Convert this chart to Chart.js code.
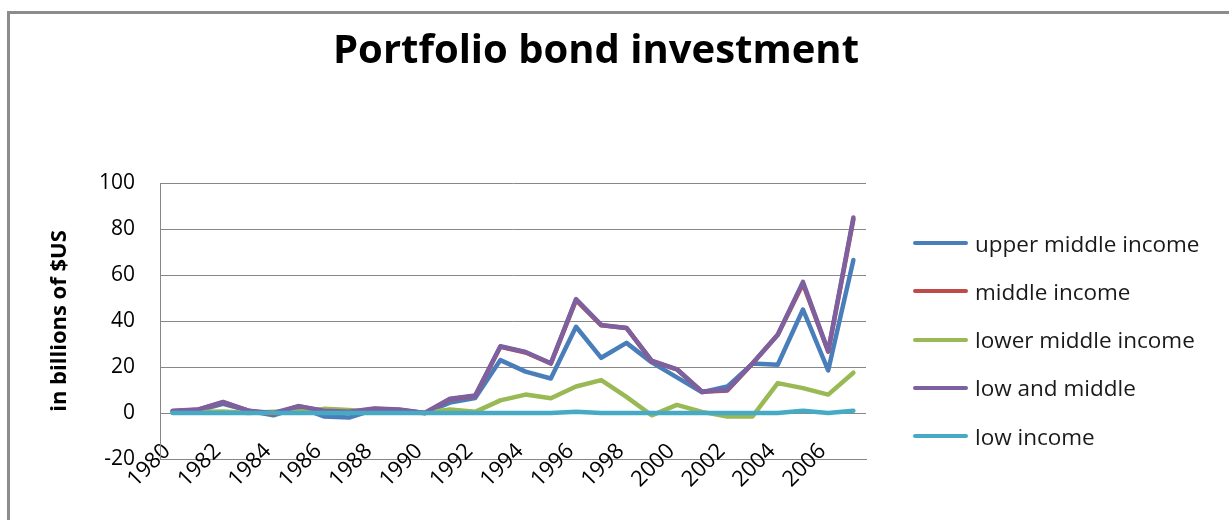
<!DOCTYPE html>
<html>
<head>
<meta charset="utf-8">
<script src="https://cdn.jsdelivr.net/npm/chart.js@4.4.1/dist/chart.umd.min.js"></script>
<style>
  html, body { margin: 0; padding: 0; background: #fff; }
  #wrap { position: relative; width: 1229px; height: 520px; overflow: hidden; background: #fff; }
  #frame { position: absolute; left: 7px; top: 11px; width: 1300px; height: 600px;
           border-left: 3px solid #8c8c8c; border-top: 3px solid #8c8c8c; pointer-events: none; }
  #legend { position: absolute; left: 913px; top: 226px; font-family: "Open Sans", sans-serif; font-size: 22.5px; color: #1a1a1a; }
  .item { display: flex; align-items: center; height: 34px; margin-bottom: 14.3px; white-space: nowrap; }
  .swatch { width: 55px; height: 4px; border-radius: 2px; margin-right: 7px; flex: none; }
</style>
</head>
<body>
<div id="wrap">
  <canvas id="c" width="1229" height="520"></canvas>
  <div id="frame"></div>
  <div id="legend"></div>
</div>
<script>
const years = [1980,1981,1982,1983,1984,1985,1986,1987,1988,1989,1990,1991,1992,1993,1994,1995,1996,1997,1998,1999,2000,2001,2002,2003,2004,2005,2006,2007];
const xTickLabels = ['1980','','1982','','1984','','1986','','1988','','1990','','1992','','1994','','1996','','1998','','2000','','2002','','2004','','2006',''];
const yTicks = [-20, 0, 20, 40, 60, 80, 100];

const upperMiddleIncome = [0.5, 1, 4, 1, -1, 2.5, -1.5, -2, 1.5, 1, 0, 4.5, 6.5, 23, 18, 15, 37.5, 24, 30.5, 22, 15.5, 9, 11.5, 21.5, 21, 45, 18.5, 66.5];
const middleIncome      = [0.8, 1.4, 4.6, 1, -0.5, 3, 0.8, 0.3, 1.8, 1.3, 0, 6, 7.4, 28.8, 26.3, 21.5, 49.1, 38.1, 37, 22.6, 19, 9.2, 9.8, 21.5, 34, 56.2, 26.7, 84.2];
const lowerMiddleIncome = [0.3, 0.4, 0.6, 0, 0.5, 0.5, 1.8, 1.3, 0.3, 0.3, 0, 1.5, 0.5, 5.5, 8, 6.4, 11.5, 14.3, 7, -1, 3.5, 0.5, -1.5, -1.5, 13, 10.8, 8, 17.5];
const lowAndMiddle      = [1, 1.5, 4.8, 1, 0, 3, 1, 0.5, 2, 1.5, 0, 6.2, 7.6, 29, 26.5, 21.6, 49.5, 38.3, 37, 22.8, 19, 9.3, 10, 21.6, 34, 57, 27, 85];
const lowIncome         = [0, 0, 0, 0, 0, 0, 0, 0, 0, 0, 0, 0, 0, 0, 0, 0, 0.5, 0, 0, 0, 0, 0, 0, 0, 0, 1, 0, 1];

const seriesNames = ['upper middle income', 'middle income', 'lower middle income', 'low and middle', 'low income'];
const seriesColors = ['#4A7EBB', '#BE4B48', '#98B954', '#7D60A0', '#46AAC5'];
const seriesValues = [upperMiddleIncome, middleIncome, lowerMiddleIncome, lowAndMiddle, lowIncome];

const FONT = '"Open Sans", Lato, sans-serif';

const datasets = seriesNames.map((name, i) => ({
  label: name,
  data: seriesValues[i],
  borderColor: seriesColors[i],
  backgroundColor: seriesColors[i],
  borderWidth: 4.5,
  borderJoinStyle: 'round',
  borderCapStyle: 'round',
  pointRadius: 0,
  pointHoverRadius: 0,
  tension: 0,
  fill: false,
  yAxisID: 'y',
  order: seriesNames.length - i
}));

const chart = new Chart(document.getElementById('c'), {
  type: 'line',
  data: { labels: years, datasets },
  options: {
    responsive: false,
    animation: false,
    layout: { padding: { left: 20, right: 57, top: 0, bottom: 0 } },
    plugins: {
      legend: { display: false },
      tooltip: { enabled: false },
      title: {
        display: true,
        text: 'Portfolio bond investment',
        color: '#000',
        font: { family: FONT, size: 40, weight: 'bold' },
        padding: { top: 28, bottom: 107 }
      }
    },
    scales: {
      x: {
        offset: true,
        grid: { display: false, drawTicks: false },
        border: { display: true, color: '#878787', width: 1 },
        afterFit: (s) => { s.height = 61; },
        ticks: {
          autoSkip: false,
          mirror: true,
          minRotation: 45,
          maxRotation: 45,
          labelOffset: 13,
          padding: 2,
          color: '#000',
          font: { family: FONT, size: 22 },
          callback: (v, i) => xTickLabels[i]
        }
      },
      y: {
        position: 'left',
        min: yTicks[0],
        max: yTicks[yTicks.length - 1],
        afterBuildTicks: (axis) => { axis.ticks = yTicks.map(v => ({ value: v })); },
        afterFit: (s) => { s.width = 140; },
        grid: { color: '#878787', lineWidth: 1, drawTicks: false },
        border: { display: true, color: '#878787', width: 1 },
        ticks: { padding: 25, color: '#000', font: { family: FONT, size: 21 } },
        title: {
          display: true,
          text: 'in billions of $US',
          color: '#000',
          font: { family: FONT, size: 22, weight: 'bold' },
          padding: { top: 27, bottom: 24 }
        }
      },
      legendSpace: {
        type: 'linear',
        position: 'right',
        display: true,
        grid: { display: false, drawTicks: false },
        border: { display: false },
        ticks: { display: false },
        afterFit: (s) => { s.width = 306; }
      }
    }
  }
});

// Legend built from the chart's own datasets
const legendEl = document.getElementById('legend');
chart.data.datasets.forEach(ds => {
  const item = document.createElement('div');
  item.className = 'item';
  const sw = document.createElement('span');
  sw.className = 'swatch';
  sw.style.background = ds.borderColor;
  const tx = document.createElement('span');
  tx.textContent = ds.label;
  item.appendChild(sw);
  item.appendChild(tx);
  legendEl.appendChild(item);
});
</script>
</body>
</html>
